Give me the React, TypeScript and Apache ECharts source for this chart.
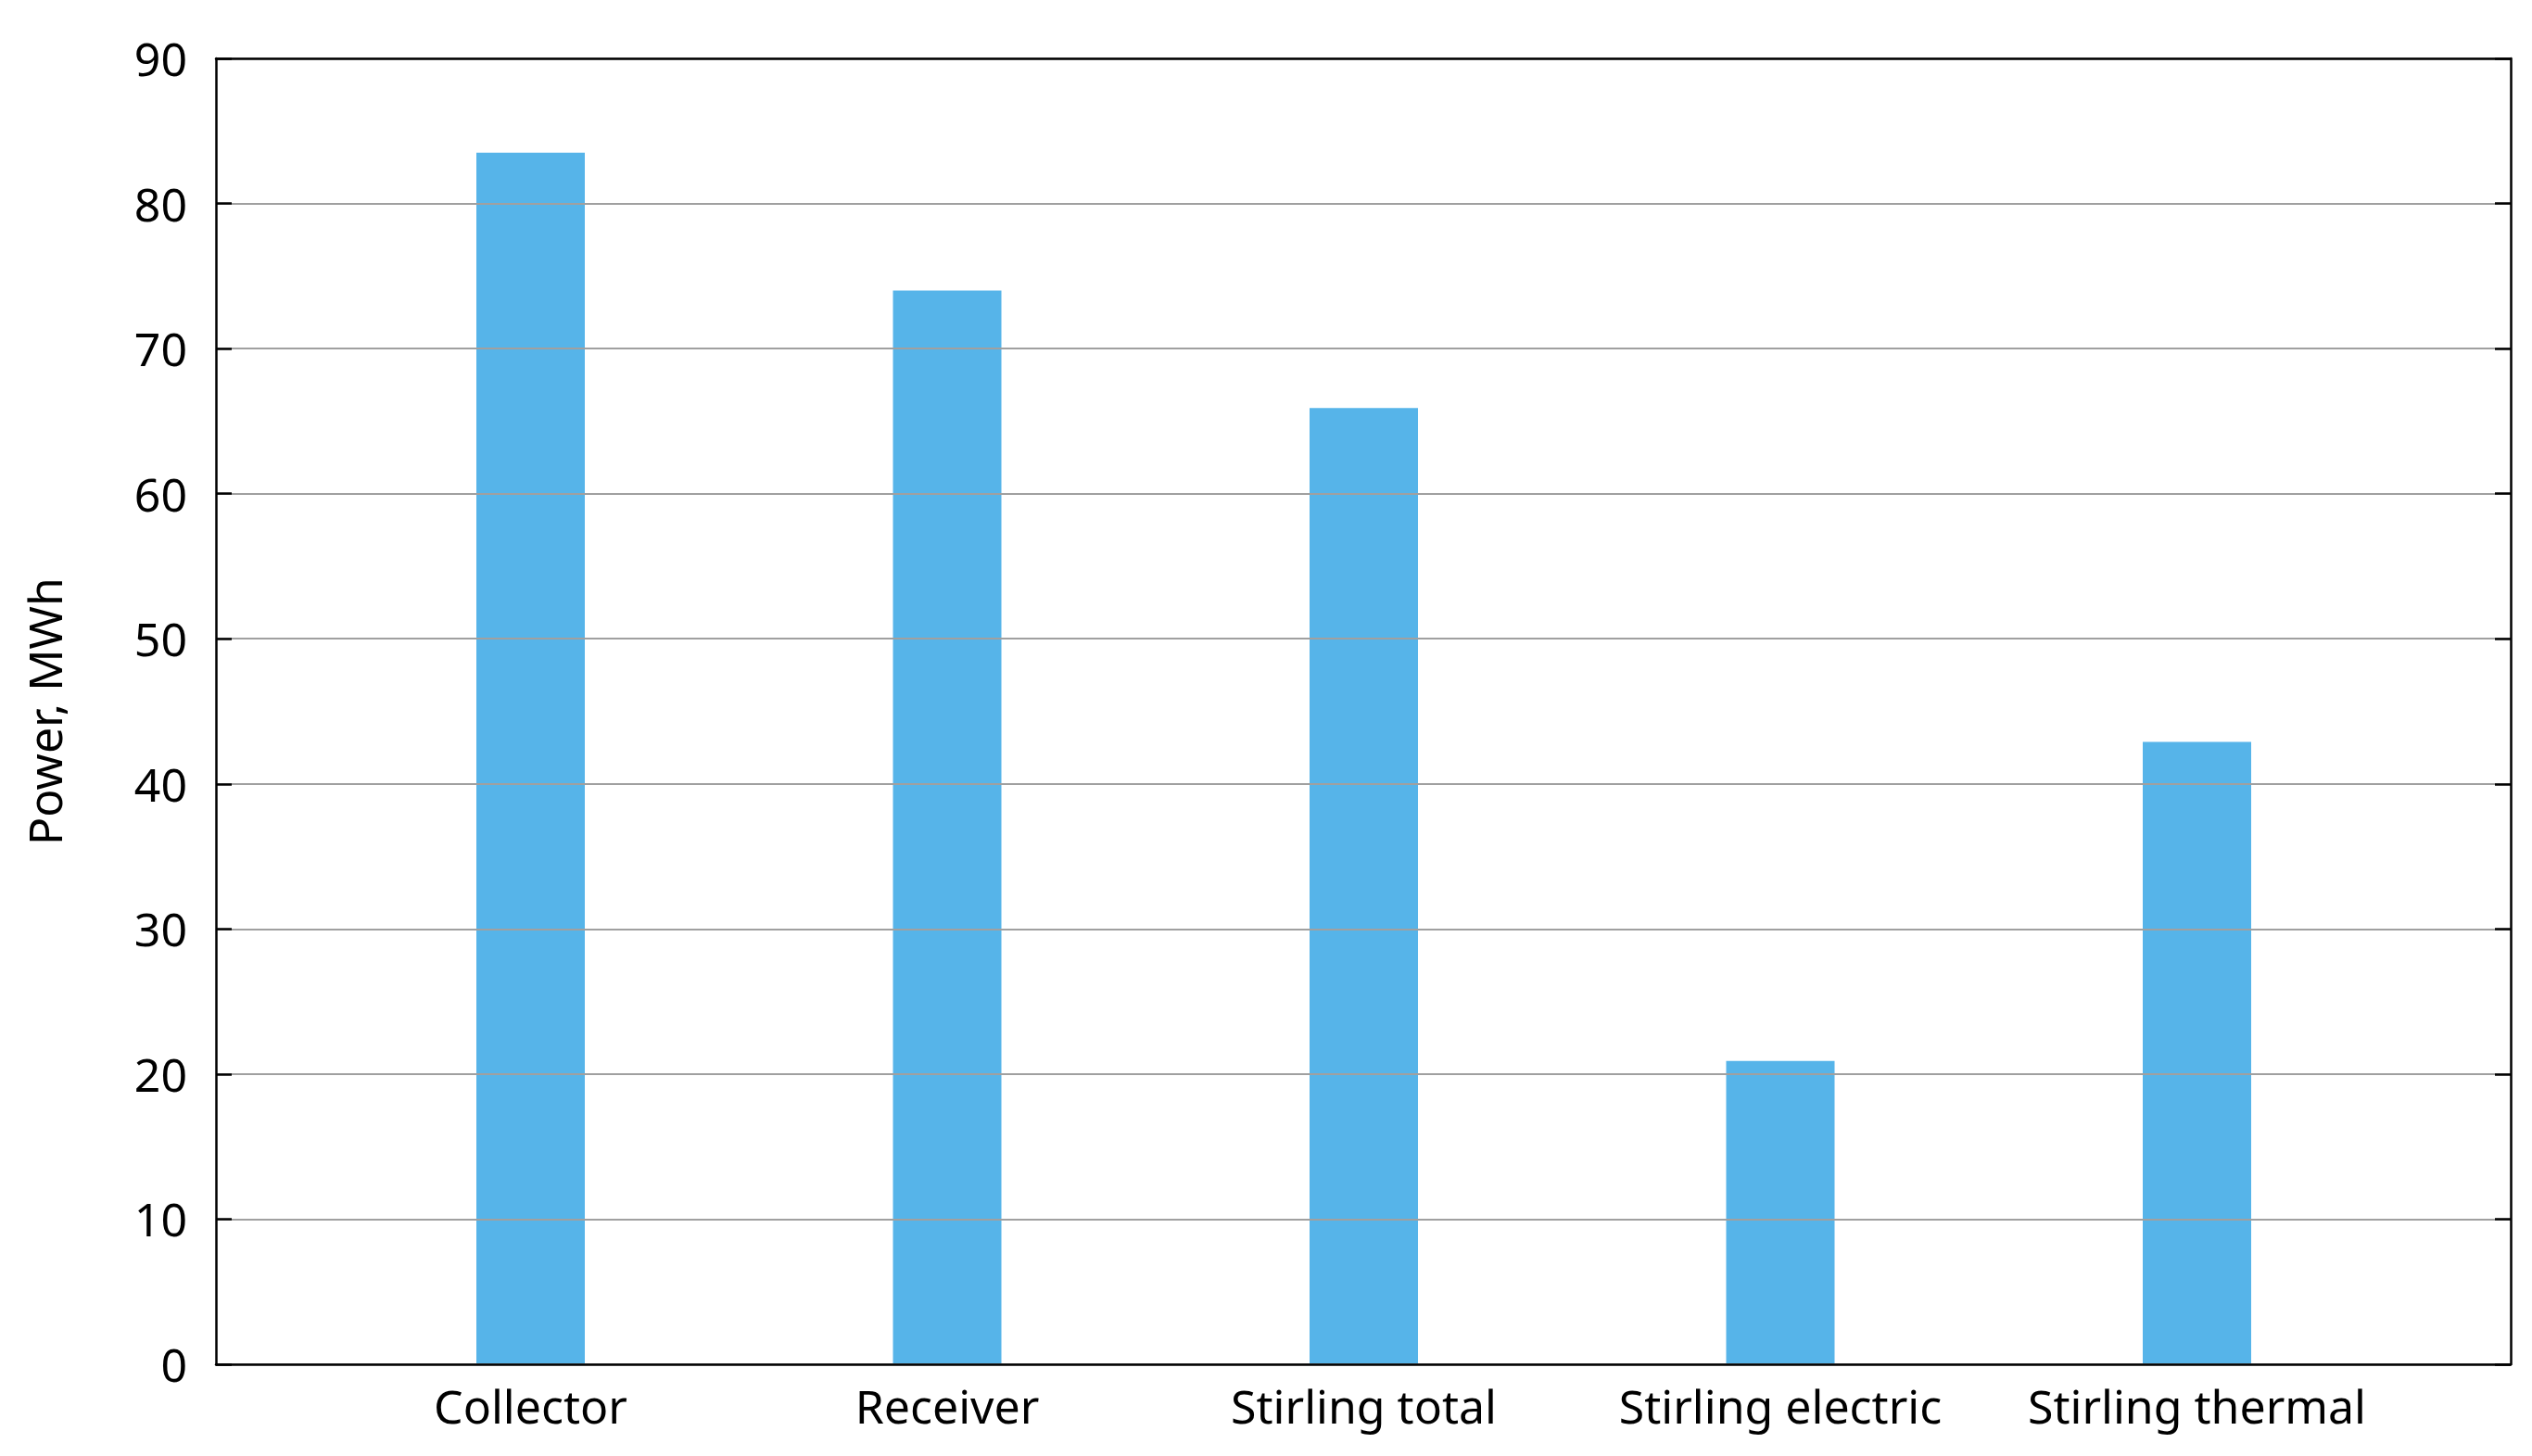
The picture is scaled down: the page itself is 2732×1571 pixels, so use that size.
import React, { useEffect, useRef } from "react";
import * as echarts from "echarts";

const categories = ["Collector", "Receiver", "Stirling total", "Stirling electric", "Stirling thermal"];
const powerValues = [83.5, 74.0, 65.9, 20.9, 42.9];
const yMin = 0;
const yMax = 90;
const yInterval = 10;
const yAxisName = "Power, MWh";

const FONT = "'Noto Sans', 'Open Sans', sans-serif";

export default function App() {
  const ref = useRef<HTMLDivElement>(null);

  useEffect(() => {
    if (!ref.current) return;
    const chart = echarts.init(ref.current, undefined, { renderer: "svg" });
    const frameLine = { show: true, onZero: false, lineStyle: { color: "#000", width: 2.5 } };
    const option = {
      animation: false,
      backgroundColor: "#fff",
      textStyle: { fontFamily: FONT },
      grid: [
        { left: 233, right: 23, top: 63, bottom: 99, show: false },
        { left: 347.75, width: 2247.5, top: 63, bottom: 99, show: false },
      ],
      xAxis: [
        {
          gridIndex: 0, type: "value", min: 0, max: 1, position: "bottom", z: 5,
          axisLine: frameLine, axisTick: { show: false }, axisLabel: { show: false }, splitLine: { show: false },
        },
        {
          gridIndex: 0, type: "value", min: 0, max: 1, position: "top", z: 5,
          axisLine: frameLine, axisTick: { show: false }, axisLabel: { show: false }, splitLine: { show: false },
        },
        {
          gridIndex: 1, type: "category", data: categories, boundaryGap: true, position: "bottom",
          axisLine: { show: false, onZero: false }, axisTick: { show: false }, splitLine: { show: false },
          axisLabel: { fontSize: 50, color: "#000", margin: 20, fontFamily: FONT, interval: 0 },
        },
      ],
      yAxis: [
        {
          gridIndex: 0, type: "value", min: yMin, max: yMax, interval: yInterval, position: "left", z: 5,
          name: yAxisName, nameLocation: "middle", nameGap: 160, nameRotate: 90,
          nameTextStyle: { fontSize: 50, color: "#000", fontFamily: FONT },
          axisLine: frameLine,
          axisTick: { show: true, inside: true, length: 17, lineStyle: { color: "#000", width: 2.5 } },
          axisLabel: { fontSize: 50, color: "#000", margin: 31, fontFamily: FONT, padding: [0, 0, 14, 0] },
          splitLine: { show: true, lineStyle: { color: "#a0a0a0", width: 2 } },
        },
        {
          gridIndex: 0, type: "value", min: yMin, max: yMax, interval: yInterval, position: "right", z: 5,
          axisLine: frameLine,
          axisTick: { show: true, inside: true, length: 17, lineStyle: { color: "#000", width: 2.5 } },
          axisLabel: { show: false },
          splitLine: { show: false },
        },
        {
          gridIndex: 1, type: "value", min: yMin, max: yMax, interval: yInterval, show: false,
          splitLine: { show: false },
        },
      ],
      series: [
        {
          type: "bar",
          xAxisIndex: 2,
          yAxisIndex: 2,
          data: powerValues,
          barWidth: 117,
          itemStyle: { color: "#56B4E9" },
        },
      ],
    };
    chart.setOption(option);
    return () => chart.dispose();
  }, []);

  return (
    <div
      ref={ref}
      style={{ position: "fixed", left: 0, top: 0, width: 2732, height: 1571, background: "#fff" }}
    />
  );
}
